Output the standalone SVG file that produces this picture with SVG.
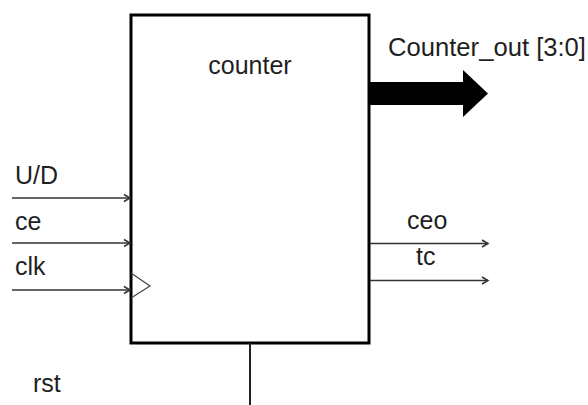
<svg xmlns="http://www.w3.org/2000/svg" width="588" height="405" viewBox="0 0 588 405">
  <style>
    .lbl { font-family: "Liberation Sans", Arial, sans-serif; font-size: 25px; fill: #1f1f1f; }
    .sig { stroke: #333; stroke-width: 1.5; fill: none; }
  </style>
  <defs>
    <marker id="open-arrow" markerWidth="10" markerHeight="10" refX="8" refY="5" orient="auto" markerUnits="userSpaceOnUse">
      <path d="M2,1.5 L8,5 L2,8.5" fill="none" stroke="#333" stroke-width="1.5"/>
    </marker>
  </defs>

  <rect width="588" height="405" fill="#ffffff"/>

  <!-- counter block -->
  <g id="counter">
    <rect x="131" y="15" width="238" height="328" fill="#ffffff" stroke="#000" stroke-width="3"/>
    <text class="lbl" x="250" y="74" text-anchor="middle">counter</text>
    <!-- clock input triangle -->
    <path d="M131,273 L150,286 L131,298" fill="none" stroke="#444" stroke-width="1.2"/>
  </g>

  <!-- signal wires -->
  <g id="connectors">
    <line class="sig" x1="12" y1="198" x2="130" y2="198" marker-end="url(#open-arrow)"/>
    <line class="sig" x1="12" y1="243" x2="130" y2="243" marker-end="url(#open-arrow)"/>
    <line class="sig" x1="12" y1="290" x2="130" y2="290" marker-end="url(#open-arrow)"/>
    <line class="sig" x1="370" y1="243.5" x2="488" y2="243.5" marker-end="url(#open-arrow)"/>
    <line class="sig" x1="370" y1="280.5" x2="488" y2="280.5" marker-end="url(#open-arrow)"/>
    <line x1="250" y1="343" x2="250" y2="405" stroke="#222" stroke-width="2"/>
    <!-- 4-bit output bus -->
    <path d="M369,82 L463,82 L463,70 L488,93.5 L463,117 L463,105 L369,105 Z" fill="#000"/>
  </g>

  <!-- port labels -->
  <g id="labels">
    <text class="lbl" x="15" y="184">U/D</text>
    <text class="lbl" x="15" y="230">ce</text>
    <text class="lbl" x="15" y="275">clk</text>
    <text class="lbl" x="33" y="392">rst</text>
    <text class="lbl" x="407" y="229">ceo</text>
    <text class="lbl" x="416" y="265">tc</text>
    <text class="lbl" x="388" y="56" textLength="198" lengthAdjust="spacingAndGlyphs">Counter_out [3:0]</text>
  </g>
</svg>
